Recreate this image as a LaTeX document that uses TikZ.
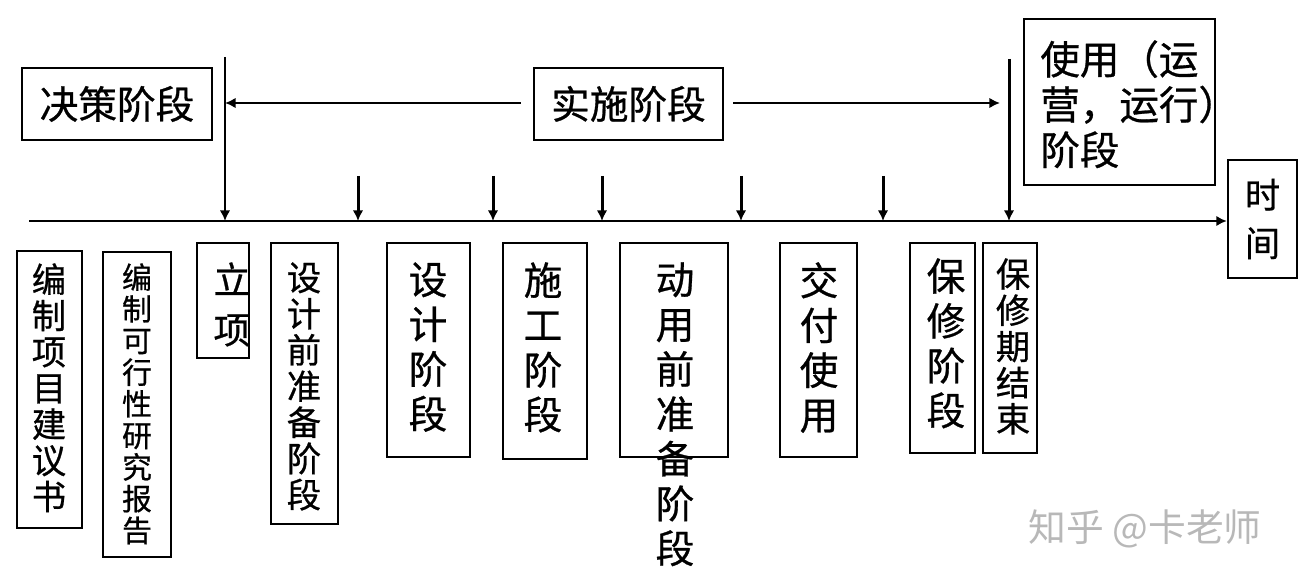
\documentclass[tikz,border=0pt]{standalone}
\usepackage{fontspec}
\newfontfamily\cjkbase[BoldFont={Noto Sans CJK SC}, BoldFeatures={FakeBold=0.7}]{Noto Sans CJK SC}
\newcommand\cjk{\cjkbase\bfseries}
\newfontfamily\cjkthin{Noto Sans CJK SC}
\usetikzlibrary{arrows.meta}
\tikzset{
  stagebox/.style={draw, line width=1.4pt, inner sep=0pt},
  vtext/.style 2 args={font=\cjk\fontsize{#1}{#2}\selectfont, align=center, inner sep=0pt, anchor=north},
  arr/.style={line width=1.7pt, -{Latex[length=6pt,width=6pt]}},
}

\begin{document}
\begin{tikzpicture}[x=0.02cm, y=-0.02cm]
\useasboundingbox (0,0) rectangle (1300,584);

% phases above the time axis
\node[stagebox, minimum width=3.8cm, minimum height=1.44cm, font=\cjk\fontsize{22}{26}\selectfont] (jc) at (117,104) {决策阶段};
\node[stagebox, minimum width=3.78cm, minimum height=1.44cm, font=\cjk\fontsize{22}{26}\selectfont] (ss) at (628.5,104) {实施阶段};
\node[stagebox, minimum width=3.82cm, minimum height=3.32cm] (sy) at (1119.5,102) {};
\node[font=\cjk\fontsize{22.5}{25.8}\selectfont, align=left, inner sep=0pt, anchor=north west] (syt) at (1040,40) {使用（运\\营，运行）\\阶段};
\node[stagebox, minimum width=1.38cm, minimum height=2.36cm, font=\cjk\fontsize{20}{27.5}\selectfont, align=center] (sj) at (1262.5,219) {时\\间};

% time axis and markers
\coordinate (ax0) at (29,221);
\coordinate (v1) at (225,57);
\coordinate (v2) at (1009,59);
\draw[arr] (ax0) -- (ax0 -| sj.west);
\draw[arr] (v1) -- (v1 |- ax0);
\draw[arr] (v2) -- (v2 |- ax0);
\draw[arr, shorten <=0.24cm] (ss.west |- 0,103) -- (v1 |- 0,103);
\draw[arr, shorten <=0.18cm, shorten >=0.18cm] (ss.east |- 0,103) -- (v2 |- 0,103);
\foreach \x [count=\i] in {358,493,602,741,883} {
  \coordinate (m\i) at (\x,176);
  \draw[arr] (m\i) -- (m\i |- ax0);
}

% boxes below the axis
\node[stagebox, minimum width=1.30cm, minimum height=5.54cm] (b1) at (49.5,389.5) {};
\node[stagebox, minimum width=1.36cm, minimum height=6.10cm] (b2) at (137,404.5) {};
\node[stagebox, minimum width=1.04cm, minimum height=2.30cm] (b3) at (223,300.5) {};
\node[stagebox, minimum width=1.34cm, minimum height=5.62cm] (b4) at (304.5,383.5) {};
\node[stagebox, minimum width=1.66cm, minimum height=4.28cm] (b5) at (428.5,350) {};
\node[stagebox, minimum width=1.68cm, minimum height=4.32cm] (b6) at (545,351) {};
\node[stagebox, minimum width=2.16cm, minimum height=4.28cm] (b7) at (674,350) {};
\node[stagebox, minimum width=1.54cm, minimum height=4.28cm] (b8) at (818.5,350) {};
\node[stagebox, minimum width=1.30cm, minimum height=4.20cm] (b9) at (942.5,348) {};
\node[stagebox, minimum width=1.08cm, minimum height=4.20cm] (b10) at (1010,348) {};

\node[vtext={19.5}{20.6}] (t1) at (49,263) {编\\制\\项\\目\\建\\议\\书};
\node[vtext={17}{18}] (t2) at (137,263) {编\\制\\可\\行\\性\\研\\究\\报\\告};
\node[vtext={21}{28.5}] (t3) at (232,262) {立\\项};
\node[vtext={19.5}{20.6}] (t4) at (304,262) {设\\计\\前\\准\\备\\阶\\段};
\node[vtext={22}{25.5}] (t5) at (428,262) {设\\计\\阶\\段};
\node[vtext={22}{25.5}] (t6) at (543,262) {施\\工\\阶\\段};
\node[vtext={22}{25.5}] (t7) at (675,262) {动\\用\\前\\准\\备\\阶\\段};
\node[vtext={22}{25.5}] (t8) at (819,262) {交\\付\\使\\用};
\node[vtext={22}{25.5}] (t9) at (946,258) {保\\修\\阶\\段};
\node[vtext={19.5}{20.6}] (t10) at (1013,258) {保\\修\\期\\结\\束};

% watermark
\node[font=\cjkthin\fontsize{21.5}{25}\selectfont, text=black!28, inner sep=0pt] (wm) at (1145,529) {知乎 @卡老师};
\end{tikzpicture}
\end{document}
